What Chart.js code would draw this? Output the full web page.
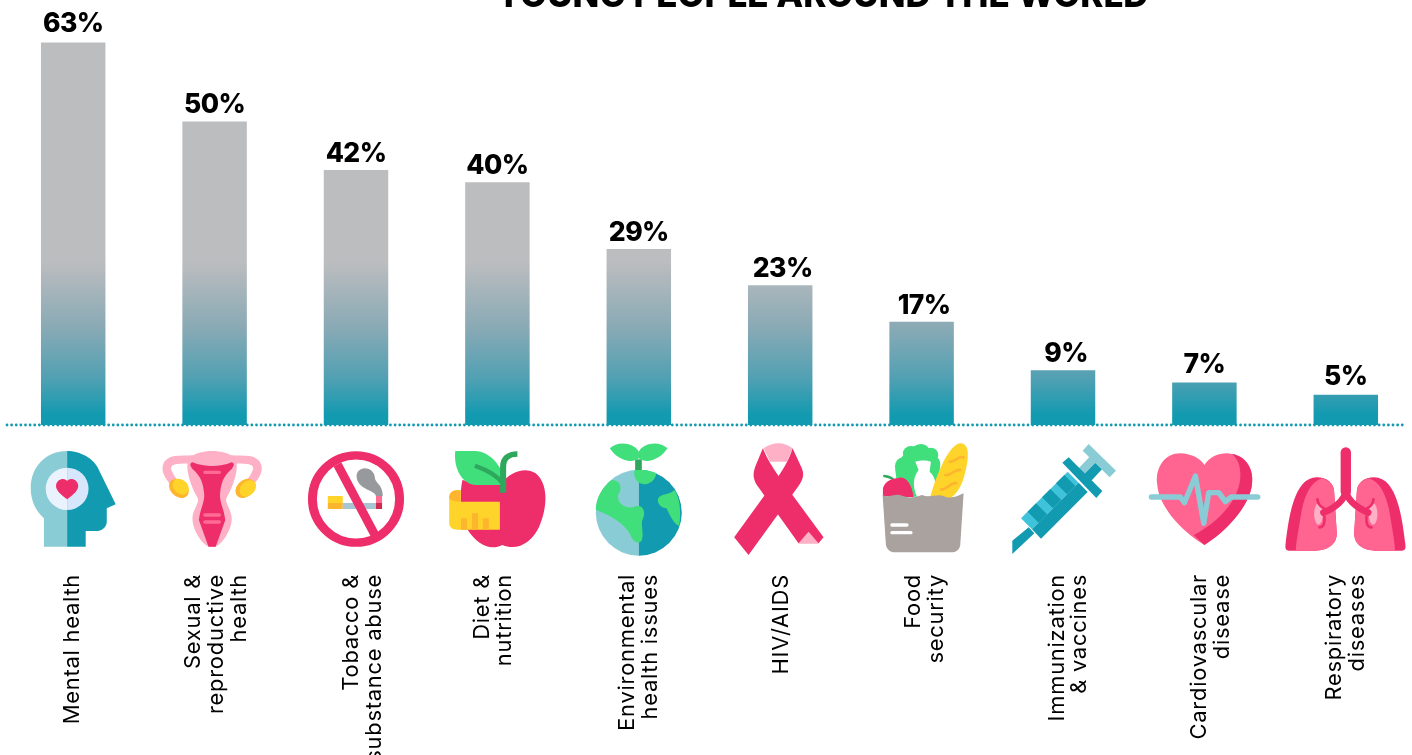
<!DOCTYPE html>
<html><head><meta charset="utf-8">
<style>html,body{margin:0;padding:0;background:#fff;overflow:hidden;width:1412px;height:755px}canvas{display:block}</style>
<script src="https://cdn.jsdelivr.net/npm/chart.js@4"></script>
</head><body><canvas id="c" width="1420" height="755"></canvas>
<script>
const TITLE = 'YOUNG PEOPLE AROUND THE WORLD';
const categories = [
  ['Mental health'],
  ['Sexual &','reproductive','health'],
  ['Tobacco &','substance abuse'],
  ['Diet &','nutrition'],
  ['Environmental','health issues'],
  ['HIV/AIDS'],
  ['Food','security'],
  ['Immunization','& vaccines'],
  ['Cardiovascular','disease'],
  ['Respiratory','diseases']
];
const shares = [63,50,42,40,29,23,17,9,7,5];
const tickShift = [-1,-21,-4.5,-15.5,-11.5,1,-8,-6,-5,-11];
const valueShiftX = [0,0,0,0,0,2.5,2.5,3,0,0];
const valueShiftY = [-3,0,0,0,0,0,0,0,-2,-2];

const TEAL='#129ab0', LT='#8accd5', PK='#ee2e6b', HOT='#ff6590', PALE='#feb0c6', YE='#ffd42a', OR='#fdb52e', GR='#40df7b', DG='#2ea85c';
const Z1=1/2.8, Z=1/3;
const ICONS=[
 {sx:Z1,ox:206,oy:15,parts:[
  {f:LT,d:'M189 93C130 93 87 140 87 205C87 245 103 275 124 295L124 380L189 380Z'},
  {f:TEAL,d:'M189 93C225 93 265 115 278 150L325 253L300 265L300 305C300 322 285 333 270 333L241 333L241 380L189 380Z'},
  {f:'#eaf3fd',d:'M189 143A60 63.5 0 0 0 189 270Z'},
  {f:'#d6e6fb',d:'M189 143A60 63.5 0 0 1 189 270Z'},
  {f:PK,d:'M189 238C170 222 158 212 158 198C158 185 168 177 178 177C183 177 187 180 189 183C191 180 195 177 200 177C210 177 220 185 220 198C220 212 208 222 189 238Z'}]},
 {sx:Z1,ox:602,oy:15,parts:[
  {st:PALE,w:24,d:'M540 118C520 120 480 112 470 135C462 155 480 175 490 190'},
  {st:PALE,w:24,d:'M650 118C670 120 710 112 720 135C728 155 710 175 700 190'},
  {f:PALE,d:'M595 93C570 93 545 100 535 112C515 125 530 190 555 235C560 250 540 270 540 295C540 330 565 370 585 380L605 380C625 370 650 330 650 295C650 270 630 250 635 235C660 190 675 125 655 112C645 100 620 93 595 93Z'},
  {f:PK,d:'M540 127C575 142 615 142 650 127C660 130 655 140 650 147C625 170 620 190 617 225C617 250 628 265 632 300L605 380L585 380L558 300C562 265 573 250 573 225C570 190 565 170 540 147C535 140 530 130 540 127Z'},
  {st:'#ff6b92',w:10,d:'M575 157L615 157M575 285L615 285M575 306L615 306'},
  {e:[502,205,24,32,-0.7],f:OR},{e:[507,200,20,26,-0.7],f:YE},
  {e:[688,205,24,32,0.7],f:OR},{e:[695,205,20,27,0.7],f:YE}]},
 {sx:Z1,ox:997,oy:15,parts:[
  {f:YE,d:'M918 228H960V249H918Z'},{f:OR,d:'M918 249H960V267H918Z'},
  {f:'#a8c5d4',d:'M960 249H1053V267H960Z'},
  {f:'#ff6b92',d:'M1053 228H1070V249H1053Z'},{f:'#cf2a4f',d:'M1053 249H1070V267H1053Z'},
  {f:'#98999c',d:'M1020 145C1040 145 1050 160 1050 175C1052 190 1072 195 1072 228L1053 228C1050 215 1030 212 1015 200C995 185 990 150 1020 145Z'},
  {st:PK,w:25,cap:'butt',d:'M945 133L1050 345'},
  {e:[997,237,122,131,0],st:PK,w:25}]},
 {sx:Z1,ox:1393,oy:15,parts:[
  {f:PK,d:'M1405 190C1430 155 1470 140 1500 160C1535 190 1535 260 1510 320C1490 365 1450 395 1407 375C1370 395 1335 370 1310 330C1290 290 1285 230 1295 180C1330 190 1380 195 1405 190Z'},
  {f:YE,d:'M1290 211L1278 211C1265 211 1258 222 1258 235L1258 310C1258 322 1268 329 1280 329L1400 329L1400 245L1290 245Z'},
  {f:OR,d:'M1290 211L1278 211C1265 211 1258 222 1258 232C1258 240 1268 245 1290 245Z'},
  {f:OR,d:'M1291 295H1308V329H1291ZM1322 280H1339V329H1322ZM1352 295H1369V329H1352Z'},
  {f:GR,d:'M1275 93L1330 93C1380 95 1410 150 1418 195L1330 195C1290 190 1270 140 1275 93Z'},
  {st:DG,w:13,cap:'butt',d:'M1330 137C1365 150 1395 170 1408 190'},
  {st:DG,w:17,cap:'butt',d:'M1409 218L1409 140C1409 115 1425 102 1449 102'}]},
 {sx:Z,ox:237,oy:15,parts:[
  {f:LT,d:'M237 149A129 129 0 0 0 237 407Z'},{f:TEAL,d:'M237 149A129 129 0 0 1 237 407Z'},
  {f:GR,d:'M155 180C180 180 190 200 175 225C170 255 205 270 230 258C250 255 258 275 250 295C240 310 255 345 245 362C235 375 220 365 212 345C195 310 150 285 108 270C108 235 125 205 155 180Z'},
  {f:GR,d:'M224 150C240 148 270 150 290 160C285 185 265 195 250 192C230 190 220 170 224 150Z'},
  {f:GR,d:'M344 210C360 235 365 275 358 318C340 310 330 285 320 265C305 265 290 250 295 235C305 220 330 225 344 210Z'},
  {f:DG,d:'M226 118H246V150H226Z'},
  {f:GR,d:'M150 85C175 60 225 70 237 95C248 70 298 60 323 85C305 115 262 135 237 115C212 135 168 115 150 85Z'}]},
 {sx:Z,ox:660,oy:15,parts:[
  {f:PALE,d:'M610 85C640 65 670 65 697 85L680 125L630 125Z'},
  {f:PK,d:'M608 85C620 115 635 140 655 168L790 352L775 370L715 370L590 195C578 175 578 160 585 140Z'},
  {f:PK,d:'M697 85L725 145C733 165 728 180 715 198L565 405L522 352L655 168C675 140 690 110 697 85Z'},
  {f:PALE,d:'M715 370L745 335L775 370Z'}]},
 {sx:Z,ox:1084,oy:15,parts:[
  {f:GR,d:'M1015 230L1005 150C1015 120 1025 115 1035 95C1060 70 1090 70 1110 90C1135 110 1140 130 1138 160L1130 230Z'},
  {e:[1028,140,24,28,0],f:GR},{e:[1052,100,24,22,0],f:GR},{e:[1082,90,24,18,0],f:GR},{e:[1112,105,22,22,0],f:GR},{e:[1125,135,15,25,0],f:GR},
  {f:'#fff',d:'M1065 125C1080 120 1100 120 1112 125L1108 155C1125 170 1135 200 1115 230L1070 230C1055 195 1060 170 1075 150Z'},
  {f:YE,d:'M1110 230C1130 160 1165 75 1200 70C1220 70 1225 90 1222 120C1215 165 1205 210 1170 235Z'},
  {st:OR,w:8,d:'M1168 125C1180 130 1195 105 1210 112M1155 165C1170 170 1185 145 1200 150M1142 208C1155 212 1175 185 1188 190'},
  {st:DG,w:7,d:'M972 168C990 170 1000 178 1003 185'},
  {f:PK,d:'M968 205C975 180 1000 175 1012 175C1030 165 1055 185 1060 232L968 228Z'},
  {f:'#a9a29e',d:'M967 225C985 235 1000 220 1020 225C1040 235 1060 235 1085 225C1110 235 1130 220 1150 228C1170 238 1190 230 1210 220L1200 375C1198 388 1188 397 1175 397L1003 397C990 397 980 388 977 375Z'},
  {st:'#fff',w:10,d:'M995 315L1040 315M995 338L1052 338'}]},
 {sx:Z,ox:218,oy:15,parts:[
  {f:TEAL,d:'M66 362L115 322L132 340L66 402Z'},
  {f:'#3fc3da',d:'M92 295L232 155L265 188L125 328Z'},
  {f:TEAL,d:'M125 328L265 188L292 216L152 356Z'},
  {f:TEAL,d:'M112 275L137 250L170 283L145 308ZM155 232L180 207L213 240L188 265ZM197 190L222 165L255 198L230 223Z'},
  {f:LT,d:'M265 145L300 108L318 125L282 162Z'},
  {f:TEAL,d:'M282 162L318 125L335 148L303 182Z'},
  {f:LT,d:'M277 92L295 72L377 152L358 172Z'},
  {f:TEAL,d:'M216 128L235 112L336 213L318 234Z'}]},
 {sx:Z,ox:642,oy:15,parts:[
  {f:HOT,d:'M642 135C660 105 700 95 725 102C770 110 790 150 785 190C780 260 700 340 642 375C590 345 505 270 500 190C495 140 525 100 570 100C600 100 630 115 642 135Z'},
  {f:PK,d:'M725 102C770 110 790 150 785 190C780 260 700 340 642 375L610 345C680 310 750 240 750 165C750 135 740 115 725 102Z'},
  {st:LT,w:16,d:'M483 231L570 231L582 248L615 168L640 310L655 218L685 218L705 245L722 231L802 231'}]},
 {sx:Z,ox:1067,oy:15,parts:[
  {f:PK,d:'M980 172C1010 172 1032 190 1032 215L1040 340C1040 375 1010 392 975 392L897 392C887 392 885 385 886 375C895 300 910 172 980 172Z'},
  {f:PK,d:'M1152 172C1122 172 1100 190 1100 215L1092 340C1092 375 1122 392 1157 392L1235 392C1245 392 1247 385 1246 375C1237 300 1222 172 1152 172Z'},
  {f:HOT,d:'M995 175C1015 180 1032 195 1032 215L1040 340C1040 375 1010 392 975 392L918 392C915 385 925 330 935 270C945 220 965 185 995 175Z'},
  {f:HOT,d:'M1137 175C1117 180 1100 195 1100 215L1092 340C1092 375 1122 392 1157 392L1214 392C1217 385 1207 330 1197 270C1187 220 1167 185 1137 175Z'},
  {e:[985,282,13,32,0],f:PALE},{e:[1149,282,13,32,0],f:PALE},
  {st:PK,w:8,d:'M982 238C985 262 1000 262 1005 268M1150 238C1147 262 1132 262 1127 268M988 322C1000 322 1005 310 1003 290M1144 322C1132 322 1127 310 1129 290'},
  {st:PK,w:20,d:'M1067 215C1060 245 1030 265 1000 278M1067 215C1075 245 1105 265 1134 278'},
  {st:PK,w:31,d:'M1067 97L1067 215'}]}
];

const iconsAndLabels={id:'iconsAndLabels',
 beforeDraw(c){
  c.ctx.letterSpacing='0.7px';
  const s=c.scales.x;
  if(!s.$shifted){s.getLabelItems(c.chartArea).forEach((it,i)=>{it.options.translation[0]+=tickShift[i];});s.$shifted=true;}
 },
 afterDatasetsDraw(c){
  const ctx=c.ctx,x=c.scales.x,y=c.scales.y,y0=y.getPixelForValue(0);
  // dotted baseline
  ctx.save();ctx.strokeStyle=TEAL;ctx.lineWidth=2.8;ctx.lineCap='round';ctx.setLineDash([0,4.62]);
  ctx.beginPath();ctx.moveTo(7,y0);ctx.lineTo(1405,y0);ctx.stroke();ctx.restore();
  // value labels
  ctx.save();ctx.letterSpacing='-0.6px';ctx.fillStyle='#000';ctx.font='800 26.5px Inter';ctx.textAlign='center';ctx.textBaseline='alphabetic';
  c.getDatasetMeta(0).data.forEach((b,i)=>ctx.fillText(shares[i]+'%',b.x+valueShiftX[i],b.y-8+valueShiftY[i]));
  ctx.restore();
  // title
  ctx.save();ctx.letterSpacing='0px';ctx.fillStyle='#000';ctx.font='800 35px Inter';ctx.textAlign='center';ctx.textBaseline='alphabetic';
  ctx.fillText(TITLE,822,7);ctx.restore();
  // icons
  ICONS.forEach((ic,i)=>{
   ctx.save();ctx.translate(x.getPixelForValue(i),y0);ctx.scale(ic.sx,Z);ctx.translate(-ic.ox,-ic.oy);
   ic.parts.forEach(p=>{
    const path=new Path2D();
    if(p.e){path.ellipse(p.e[0],p.e[1],p.e[2],p.e[3],p.e[4],0,Math.PI*2);}else{path.addPath(new Path2D(p.d));}
    if(p.st){ctx.strokeStyle=p.st;ctx.lineWidth=p.w;ctx.lineCap=p.cap||'round';ctx.lineJoin='round';ctx.stroke(path);}
    else{ctx.fillStyle=p.f;ctx.fill(path);}
   });
   ctx.restore();
  });
 }};

new Chart(document.getElementById('c'),{
 type:'bar',
 data:{labels:categories,datasets:[{data:shares,barPercentage:0.456,categoryPercentage:1,borderWidth:0,
  backgroundColor(k){
   const c=k.chart;if(!c.chartArea)return TEAL;
   const y=c.scales.y,g=c.ctx.createLinearGradient(0,y.getPixelForValue(27),0,y.getPixelForValue(0));
   g.addColorStop(0,'#bcbdbf');g.addColorStop(0.4,'#8aaab5');g.addColorStop(0.72,'#50a0b3');g.addColorStop(0.94,TEAL);g.addColorStop(1,TEAL);return g;
  }}]},
 plugins:[iconsAndLabels],
 options:{responsive:false,animation:false,
  layout:{padding:{left:2.5,right:3.5,top:0,bottom:0}},
  plugins:{legend:{display:false},tooltip:{enabled:false}},
  scales:{
   y:{display:false,min:0,max:70,afterFit(s){s.width=0;}},
   x:{grid:{display:false,drawTicks:false},border:{display:false},
      afterFit(s){s.height=330;s.paddingLeft=0;s.paddingRight=0;},
      ticks:{autoSkip:false,minRotation:90,maxRotation:90,padding:149,color:'#000',
             font:{family:'Inter',size:22,lineHeight:1.03}}}
  }}
});
</script></body></html>
